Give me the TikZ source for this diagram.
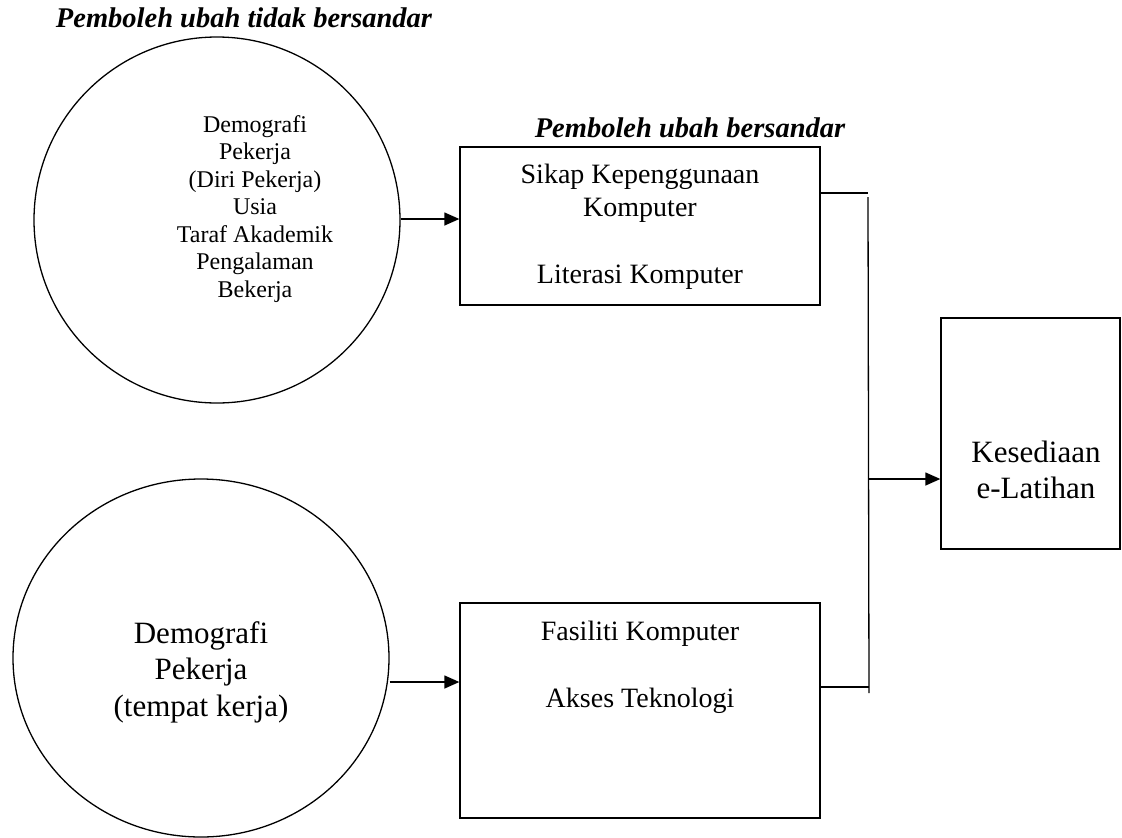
\documentclass[tikz,border=0pt]{standalone}
\usepackage{fontspec}
\setmainfont{Liberation Serif}
\usetikzlibrary{arrows.meta, positioning, shapes.geometric}

\begin{document}
\begin{tikzpicture}[
    x=1pt, y=-1pt,
    varcircle/.style={circle, draw, line width=1.3pt, inner sep=0pt},
    varellipse/.style={ellipse, draw, line width=1.3pt, inner sep=0pt},
    varbox/.style={rectangle, draw, line width=1.3pt, inner sep=0pt},
    heading/.style={font=\fontsize{28.5}{33}\selectfont\bfseries\itshape, inner sep=0pt},
    smalltxt/.style={align=center, inner sep=0pt, font=\fontsize{24}{27.5}\selectfont},
    boxtxt/.style={align=center, inner sep=0pt, font=\fontsize{28}{33.5}\selectfont},
    bigtxt/.style={align=center, inner sep=0pt, font=\fontsize{31}{36.5}\selectfont},
    link/.style={line width=1.3pt},
    arrow/.style={line width=1.3pt, -{Triangle[length=15pt, width=13pt]}}
]
\useasboundingbox (0,0) rectangle (1122,838);

% Headings
\node (tidak_head) [heading] at (244,18) {Pemboleh ubah tidak bersandar};
\node (bersandar_head) [heading] at (690,128) {Pemboleh ubah bersandar};

% Independent variables
\node (diri) [varcircle, minimum size=366pt] at (217,220) {};
\node (diri_txt) [smalltxt] at (255,209) {Demografi\\Pekerja\\(Diri Pekerja)\\Usia\\Taraf Akademik\\Pengalaman\\Bekerja};

\node (tempat) [varellipse, minimum width=376pt, minimum height=358pt] at (201,658) {};
\node (tempat_txt) [bigtxt] at (201,672) {Demografi\\Pekerja\\(tempat kerja)};

% Dependent variables
\node (sikap) [varbox, minimum width=360pt, minimum height=158pt] at (640,226) {};
\node (sikap_txt) [boxtxt] at (640,227) {Sikap Kepenggunaan\\Komputer\\[33.5pt]Literasi Komputer};

\node (fasiliti) [varbox, minimum width=360pt, minimum height=215pt] at (640,710.5) {};
\node (fasiliti_txt) [boxtxt] at (640,667) {Fasiliti Komputer\\[33.5pt]Akses Teknologi};

\node (kesediaan) [varbox, minimum width=179pt, minimum height=231pt] at (1030.5,433.5) {};
\node (kesediaan_txt) [bigtxt] at (1036,470) {Kesediaan\\e-Latihan};

% Connectors
\coordinate (bar_top) at (868,193);
\coordinate (bar_mid) at (868,479);
\coordinate (bar_bot) at (869,693);

\draw [arrow] (diri.east |- 0,219) -- (sikap.west |- 0,219);
\draw [arrow] ([yshift=-24pt]tempat.east) -- ([yshift=-24pt]tempat.east -| fasiliti.west);

\draw [link] (sikap.east |- bar_top) -- (bar_top);
\draw [link] ([yshift=-4pt]bar_top) -- (bar_bot);
\draw [link] (fasiliti.east |- 0,687) -- (bar_bot |- 0,687);
\draw [arrow] (bar_mid) -- (bar_mid -| kesediaan.west);

\end{tikzpicture}
\end{document}
